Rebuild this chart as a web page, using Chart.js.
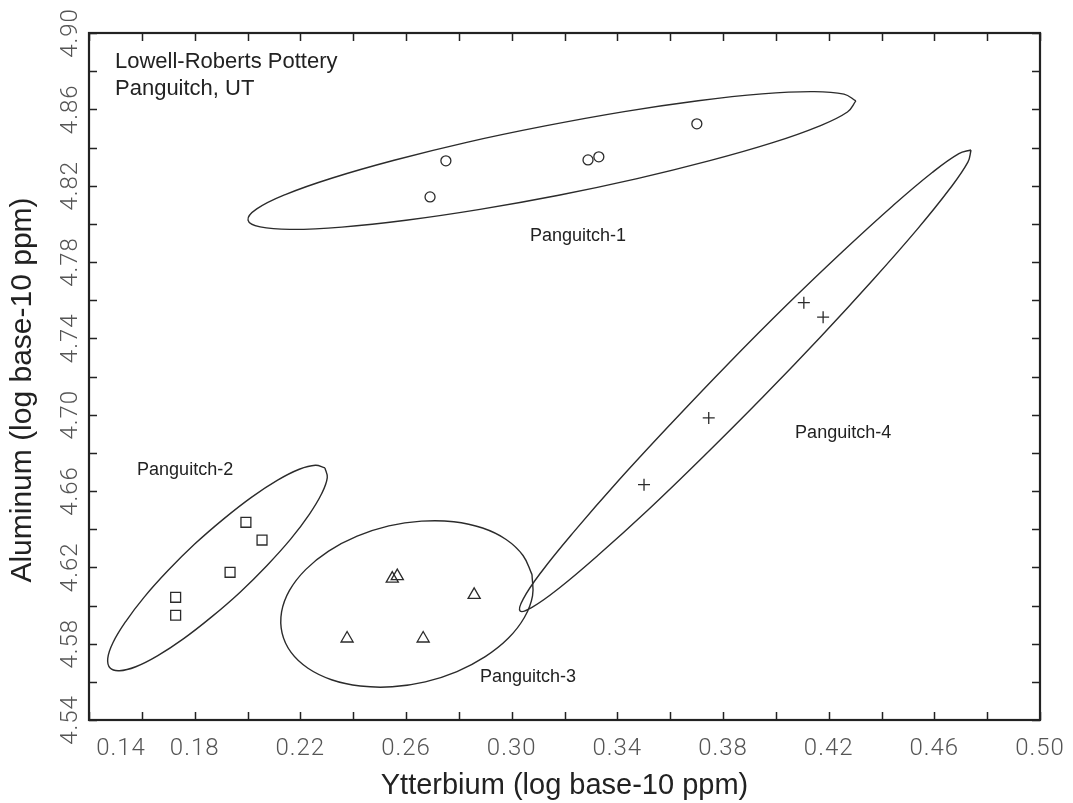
<!DOCTYPE html>
<html>
<head>
<meta charset="utf-8">
<title>Lowell-Roberts Pottery</title>
<script src="https://cdn.jsdelivr.net/npm/chart.js@4.4.1/dist/chart.umd.min.js"></script>
<style>
    html, body { margin: 0; padding: 0; background: #fff; }
    canvas { display: block; }
</style>
</head>
<body>
<canvas id="potteryChart" width="1073" height="803"></canvas>
<script>
// Axis ticks (labels every 0.04, minor marks every 0.02)
const xTickLabels = [0.14, 0.18, 0.22, 0.26, 0.30, 0.34, 0.38, 0.42, 0.46, 0.50];
const yTickLabels = [4.54, 4.58, 4.62, 4.66, 4.70, 4.74, 4.78, 4.82, 4.86, 4.90];

// Sample measurements: Yb (x) and Al (y), log10 ppm
const grp1Yb = [0.2751, 0.2691, 0.3289, 0.3330, 0.3701];
const grp1Al = [4.8330, 4.8141, 4.8335, 4.8351, 4.8524];

const grp2Yb = [0.1994, 0.2055, 0.1934, 0.1728, 0.1728];
const grp2Al = [4.6436, 4.6343, 4.6174, 4.6043, 4.5949];

const grp3Yb = [0.2548, 0.2567, 0.2858, 0.2377, 0.2665];
const grp3Al = [4.6141, 4.6154, 4.6056, 4.5827, 4.5827];

const grp4Yb = [0.4106, 0.4179, 0.3746, 0.3501];
const grp4Al = [4.7587, 4.7511, 4.6983, 4.6633];

// Confidence ellipse outlines (closed, 24 vertices each)
const ell1Yb = [0.4303, 0.4271, 0.4162, 0.3985, 0.3750, 0.3475, 0.3178, 0.2880, 0.2600, 0.2357, 0.2169, 0.2048, 0.2002,
                0.2035, 0.2143, 0.2321, 0.2555, 0.2830, 0.3127, 0.3426, 0.3706, 0.3948, 0.4136, 0.4258, 0.4303];
const ell1Al = [4.8644, 4.8586, 4.8511, 4.8424, 4.8331, 4.8237, 4.8150, 4.8076, 4.8019, 4.7983, 4.7971, 4.7984, 4.8020,
                4.8078, 4.8153, 4.8240, 4.8333, 4.8427, 4.8513, 4.8588, 4.8645, 4.8681, 4.8693, 4.8680, 4.8644];

const ell2Yb = [0.2293, 0.2302, 0.2281, 0.2234, 0.2164, 0.2074, 0.1972, 0.1863, 0.1757, 0.1659, 0.1577, 0.1515, 0.1480,
                0.1471, 0.1491, 0.1539, 0.1609, 0.1699, 0.1801, 0.1910, 0.2016, 0.2114, 0.2196, 0.2257, 0.2293];
const ell2Al = [4.6721, 4.6670, 4.6587, 4.6478, 4.6349, 4.6210, 4.6070, 4.5939, 4.5825, 4.5736, 4.5679, 4.5658, 4.5672,
                4.5723, 4.5806, 4.5916, 4.6044, 4.6183, 4.6323, 4.6454, 4.6568, 4.6657, 4.6714, 4.6735, 4.6721];

const ell3Yb = [0.3077, 0.3079, 0.3048, 0.2987, 0.2900, 0.2793, 0.2673, 0.2548, 0.2427, 0.2318, 0.2229, 0.2165, 0.2131,
                0.2129, 0.2159, 0.2220, 0.2307, 0.2415, 0.2535, 0.2659, 0.2781, 0.2890, 0.2979, 0.3043, 0.3077];
const ell3Al = [4.6162, 4.6051, 4.5937, 4.5828, 4.5732, 4.5654, 4.5600, 4.5574, 4.5578, 4.5611, 4.5671, 4.5754, 4.5855,
                4.5966, 4.6079, 4.6188, 4.6285, 4.6363, 4.6417, 4.6442, 4.6439, 4.6406, 4.6346, 4.6262, 4.6162];

const ell4Yb = [0.4739, 0.4727, 0.4657, 0.4535, 0.4368, 0.4169, 0.3950, 0.3727, 0.3515, 0.3327, 0.3178, 0.3077, 0.3032,
                0.3044, 0.3113, 0.3236, 0.3402, 0.3602, 0.3820, 0.4043, 0.4256, 0.4443, 0.4592, 0.4693, 0.4739];
const ell4Al = [4.8387, 4.8323, 4.8181, 4.7971, 4.7707, 4.7407, 4.7091, 4.6782, 4.6499, 4.6263, 4.6089, 4.5990, 4.5971,
                4.6035, 4.6177, 4.6387, 4.6651, 4.6951, 4.7267, 4.7577, 4.7859, 4.8095, 4.8269, 4.8368, 4.8387];

// Group names
const groupNames = ['Panguitch-1', 'Panguitch-2', 'Panguitch-3', 'Panguitch-4'];

const INK = '#2b2b2b';

function toPoints(xs, ys) {
    return xs.map((x, i) => ({ x: x, y: ys[i] }));
}

function ellipseSet(xs, ys) {
    return {
        type: 'line',
        data: toPoints(xs, ys),
        borderColor: INK,
        borderWidth: 1.4,
        pointRadius: 0,
        fill: false,
        tension: 0.4
    };
}

function markerSet(xs, ys, style, radius) {
    return {
        type: 'scatter',
        data: toPoints(xs, ys),
        pointStyle: style,
        pointRadius: radius,
        pointBackgroundColor: 'rgba(0,0,0,0)',
        pointBorderColor: INK,
        pointBorderWidth: 1.3
    };
}

// Group label anchors (data units, left / middle)
const groupLabelPos = [
    { x: 0.3069, y: 4.7936 },
    { x: 0.1582, y: 4.6710 },
    { x: 0.2880, y: 4.5625 },
    { x: 0.4073, y: 4.6904 }
];

// Frame, inward ticks, rotated y labels, titles and annotations
const frameAxes = {
    id: 'frameAxes',
    afterDraw(chart) {
        const ctx = chart.ctx;
        const a = chart.chartArea;
        const xs = chart.scales.x;
        const ys = chart.scales.y;
        const tick = 8;

        ctx.save();
        ctx.strokeStyle = '#222';
        ctx.lineWidth = 1.5;
        for (let i = 0; i <= 18; i++) {
            const v = 0.14 + i * 0.02;
            const px = Math.round(xs.getPixelForValue(v)) + 0.5;
            ctx.beginPath();
            ctx.moveTo(px, a.bottom); ctx.lineTo(px, a.bottom - tick);
            ctx.moveTo(px, a.top); ctx.lineTo(px, a.top + tick);
            ctx.stroke();
            const w = 4.54 + i * 0.02;
            const py = Math.round(ys.getPixelForValue(w)) + 0.5;
            ctx.beginPath();
            ctx.moveTo(a.left, py); ctx.lineTo(a.left + tick, py);
            ctx.moveTo(a.right, py); ctx.lineTo(a.right - tick, py);
            ctx.stroke();
        }
        ctx.lineWidth = 2.2;
        ctx.strokeRect(a.left, a.top, a.right - a.left, a.bottom - a.top);

        // tick labels
        ctx.fillStyle = '#555';
        ctx.font = '300 24px Roboto';
        ctx.letterSpacing = '1px';
        ctx.textBaseline = 'middle';
        ctx.textAlign = 'center';
        xTickLabels.forEach((v, i) => {
            let px = xs.getPixelForValue(v);
            if (i === 0) px += 32;
            ctx.fillText(v.toFixed(2), px, a.bottom + 29);
        });
        yTickLabels.forEach(v => {
            const py = ys.getPixelForValue(v);
            ctx.save();
            ctx.translate(a.left - 18, py);
            ctx.rotate(-Math.PI / 2);
            ctx.fillText(v.toFixed(2), 0, 0);
            ctx.restore();
        });
        ctx.letterSpacing = '0px';

        // axis titles
        ctx.fillStyle = '#222';
        ctx.font = '29px "Liberation Sans", Arial, sans-serif';
        ctx.fillText('Ytterbium (log base-10 ppm)', (a.left + a.right) / 2, a.bottom + 66);
        ctx.font = '30px "Liberation Sans", Arial, sans-serif';
        ctx.save();
        ctx.translate(23, 390);
        ctx.rotate(-Math.PI / 2);
        ctx.fillText('Aluminum (log base-10 ppm)', 0, 0);
        ctx.restore();

        // header
        ctx.textAlign = 'left';
        ctx.font = '22px "Liberation Sans", Arial, sans-serif';
        ctx.fillText('Lowell-Roberts Pottery', a.left + 26, a.top + 29);
        ctx.fillText('Panguitch, UT', a.left + 26, a.top + 56);

        // group names
        ctx.font = '18px "Liberation Sans", Arial, sans-serif';
        groupNames.forEach((name, i) => {
            const p = groupLabelPos[i];
            ctx.fillText(name, xs.getPixelForValue(p.x), ys.getPixelForValue(p.y));
        });
        ctx.restore();
    }
};

new Chart(document.getElementById('potteryChart'), {
    type: 'scatter',
    data: {
        datasets: [
            ellipseSet(ell1Yb, ell1Al),
            ellipseSet(ell2Yb, ell2Al),
            ellipseSet(ell3Yb, ell3Al),
            ellipseSet(ell4Yb, ell4Al),
            markerSet(grp1Yb, grp1Al, 'circle', 5),
            markerSet(grp2Yb, grp2Al, 'rect', 7),
            markerSet(grp3Yb, grp3Al, 'triangle', 7),
            markerSet(grp4Yb, grp4Al, 'cross', 6)
        ]
    },
    options: {
        responsive: false,
        animation: false,
        layout: {
            padding: { left: 89, top: 33, right: 33, bottom: 83 }
        },
        plugins: {
            legend: { display: false },
            tooltip: { enabled: false }
        },
        scales: {
            x: { type: 'linear', min: 0.14, max: 0.50, display: false },
            y: { type: 'linear', min: 4.54, max: 4.90, display: false }
        }
    },
    plugins: [frameAxes]
});
</script>
</body>
</html>
